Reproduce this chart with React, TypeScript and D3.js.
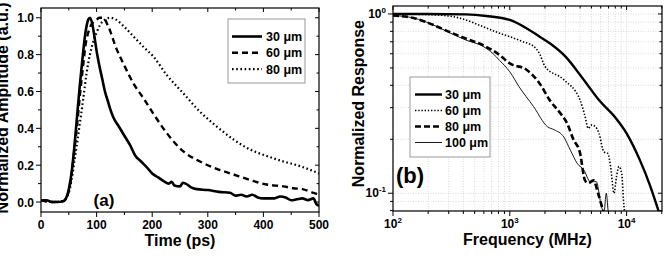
import * as d3 from "d3";

// panel (a): time response
const timeA = [0, 10, 20, 30, 40, 45, 50, 55, 60, 65, 70, 75, 80, 85, 88, 92, 96, 100, 105, 110, 115, 120, 125, 130, 140, 150, 160, 170, 180, 190, 200, 210, 220, 230, 235, 240, 250, 255, 260, 270, 280, 300, 320, 340, 350, 360, 370, 380, 390, 400, 420, 430, 440, 450, 460, 470, 480, 490, 495, 500];
const amp30 = [0.01, 0.01, 0.0, 0.0, 0.005, 0.02, 0.07, 0.16, 0.3, 0.47, 0.64, 0.79, 0.92, 0.99, 1.0, 0.97, 0.9, 0.82, 0.74, 0.67, 0.6, 0.55, 0.5, 0.46, 0.41, 0.36, 0.31, 0.25, 0.22, 0.19, 0.155, 0.135, 0.115, 0.1, 0.11, 0.09, 0.085, 0.105, 0.1, 0.08, 0.07, 0.065, 0.055, 0.05, 0.035, 0.04, 0.03, 0.04, 0.025, 0.02, 0.02, 0.03, 0.025, 0.01, 0.015, 0.02, 0.01, 0.02, -0.01, -0.02];

const timeB = [0, 20, 40, 45, 50, 55, 60, 65, 70, 75, 80, 85, 90, 95, 100, 105, 112, 120, 136, 150, 166, 185, 202, 226, 256, 286, 316, 346, 376, 406, 436, 454, 470, 490, 500];
const amp60 = [0.01, 0.0, 0.005, 0.02, 0.06, 0.15, 0.28, 0.42, 0.58, 0.72, 0.85, 0.92, 0.96, 0.98, 0.99, 1.0, 1.0, 0.96, 0.83, 0.74, 0.645, 0.56, 0.48, 0.375, 0.275, 0.22, 0.18, 0.15, 0.12, 0.095, 0.085, 0.075, 0.07, 0.05, 0.04];

const timeC = [0, 20, 40, 45, 50, 55, 60, 64, 70, 76, 82, 88, 94, 100, 106, 115, 124, 135, 150, 166, 185, 202, 226, 256, 286, 316, 346, 376, 406, 436, 466, 500];
const amp80 = [0.01, 0.0, 0.005, 0.02, 0.05, 0.12, 0.22, 0.3, 0.43, 0.56, 0.7, 0.8, 0.87, 0.92, 0.96, 0.99, 1.0, 0.99, 0.95, 0.9, 0.84, 0.79, 0.69, 0.59, 0.49, 0.41, 0.34, 0.285, 0.25, 0.22, 0.195, 0.155];

// panel (b): frequency response
const freq30 = [100, 200, 420, 630, 1000, 1400, 1800, 2200, 3000, 4200, 5800, 8100, 10000, 13000, 16000, 18500, 20000];
const resp30 = [1.0, 1.0, 0.995, 0.975, 0.926, 0.83, 0.747, 0.686, 0.578, 0.438, 0.331, 0.262, 0.216, 0.153, 0.109, 0.082, 0.07];

const freq60 = [100, 220, 370, 590, 820, 1000, 1300, 1600, 1800, 2000, 2900, 4000, 4400, 4700, 5000, 5400, 5800, 6400, 6900, 7300, 7800, 8200, 8600, 9100, 9400, 9700];
const resp60 = [1.0, 0.99, 0.95, 0.85, 0.78, 0.747, 0.7, 0.66, 0.6, 0.51, 0.43, 0.33, 0.27, 0.23, 0.24, 0.235, 0.216, 0.17, 0.167, 0.141, 0.1, 0.124, 0.141, 0.128, 0.092, 0.075];

const freq80 = [100, 150, 220, 300, 420, 590, 820, 1000, 1400, 1800, 2200, 2700, 3100, 3500, 4000, 4400, 4700, 5200, 5700, 6300, 6800];
const resp80 = [0.98, 0.95, 0.87, 0.797, 0.73, 0.67, 0.59, 0.53, 0.487, 0.41, 0.33, 0.28, 0.245, 0.2, 0.167, 0.118, 0.114, 0.118, 0.1, 0.08, 0.07];

const freq100 = [100, 150, 220, 300, 420, 590, 720, 820, 1000, 1200, 1600, 2100, 2400, 2900, 3300, 3800, 4300, 4900, 5500, 6100, 6400, 6700, 7000, 7300];
const resp100 = [0.98, 0.95, 0.87, 0.79, 0.716, 0.66, 0.6, 0.55, 0.476, 0.393, 0.304, 0.235, 0.226, 0.206, 0.174, 0.146, 0.135, 0.116, 0.116, 0.084, 0.078, 0.1, 0.076, 0.07];

const legendA = ["30 \u03bcm", "60 \u03bcm", "80 \u03bcm"];
const legendB = ["30 \u03bcm", "60 \u03bcm", "80 \u03bcm", "100 \u03bcm"];

const FONT = "'Liberation Sans', Arial, sans-serif";

type Style = { width: number; dash?: string };
const stylesA: Style[] = [{ width: 2.6 }, { width: 2.4, dash: "6,4" }, { width: 2.2, dash: "1.6,2.6" }];
const stylesB: Style[] = [{ width: 2.4 }, { width: 1.6, dash: "1.4,1.8" }, { width: 2.6, dash: "6,3" }, { width: 0.9 }];

function PanelA() {
  const x = d3.scaleLinear().domain([0, 500]).range([41, 319]);
  const y = d3.scaleLinear().domain([-0.054, 1.053]).range([212, 8]);
  const line = d3
    .line<[number, number]>()
    .x((d) => x(d[0]))
    .y((d) => y(d[1]))
    .curve(d3.curveMonotoneX);
  const series = [
    d3.zip(timeA, amp30) as [number, number][],
    d3.zip(timeB, amp60) as [number, number][],
    d3.zip(timeC, amp80) as [number, number][],
  ];
  const [x0, x1] = x.range();
  const [y0, y1] = y.range();
  const xMajor = d3.range(0, 501, 100);
  const xMinor = d3.range(50, 500, 100);
  const yMajor = d3.range(0, 1.01, 0.2);
  const yMinor = d3.range(0.1, 1.01, 0.2);
  return (
    <g>
      <defs>
        <clipPath id="clipA">
          <rect x={x0} y={y1} width={x1 - x0} height={y0 - y1} />
        </clipPath>
      </defs>
      <g clipPath="url(#clipA)">
        {series.map((s, i) => (
          <path
            key={i}
            d={line(s) ?? ""}
            fill="none"
            stroke="#000"
            strokeWidth={stylesA[i].width}
            strokeDasharray={stylesA[i].dash}
            strokeLinejoin="round"
          />
        ))}
      </g>
      <rect x={x0} y={y1} width={x1 - x0} height={y0 - y1} fill="none" stroke="#000" strokeWidth={1.2} />
      {xMajor.map((t) => (
        <g key={"xm" + t}>
          <line x1={x(t)} x2={x(t)} y1={y0} y2={y0 + 5} stroke="#000" />
          <line x1={x(t)} x2={x(t)} y1={y1} y2={y1 + 4} stroke="#000" />
          <text x={x(t)} y={y0 + 17} textAnchor="middle" fontSize={12} fontWeight="bold" fontFamily={FONT}>
            {t}
          </text>
        </g>
      ))}
      {xMinor.map((t) => (
        <g key={"xn" + t}>
          <line x1={x(t)} x2={x(t)} y1={y0} y2={y0 + 3} stroke="#000" />
          <line x1={x(t)} x2={x(t)} y1={y1} y2={y1 + 2.5} stroke="#000" />
        </g>
      ))}
      {yMajor.map((v) => (
        <g key={"ym" + v}>
          <line x1={x0 - 5} x2={x0} y1={y(v)} y2={y(v)} stroke="#000" />
          <line x1={x1} x2={x1 - 4} y1={y(v)} y2={y(v)} stroke="#000" />
          <text x={x0 - 7} y={y(v) + 4.5} textAnchor="end" fontSize={12} fontWeight="bold" fontFamily={FONT}>
            {v.toFixed(1)}
          </text>
        </g>
      ))}
      {yMinor.map((v) => (
        <g key={"yn" + v}>
          <line x1={x0 - 3} x2={x0} y1={y(v)} y2={y(v)} stroke="#000" />
          <line x1={x1} x2={x1 - 2.5} y1={y(v)} y2={y(v)} stroke="#000" />
        </g>
      ))}
      <text x={(x0 + x1) / 2} y={246} textAnchor="middle" fontSize={16} fontWeight="bold" fontFamily={FONT}>
        Time (ps)
      </text>
      <text
        transform={`translate(8,${(y(0) + y(1)) / 2 - 2}) rotate(-90)`}
        textAnchor="middle"
        fontSize={16}
        fontWeight="bold"
        fontFamily={FONT}
      >
        Normalized Amplitude (a.u.)
      </text>
      <text x={104} y={206} textAnchor="middle" fontSize={17} fontWeight="bold" fontFamily={FONT}>
        (a)
      </text>
      <rect x={228} y={19} width={77} height={64} fill="#fff" stroke="#999" strokeWidth={1} />
      {legendA.map((name, i) => (
        <g key={name}>
          <line
            x1={232}
            x2={262}
            y1={36.5 + i * 16.3}
            y2={36.5 + i * 16.3}
            stroke="#000"
            strokeWidth={stylesA[i].width}
            strokeDasharray={stylesA[i].dash}
          />
          <text x={266} y={41 + i * 16.3} fontSize={12.5} fontWeight="bold" fontFamily={FONT}>
            {name}
          </text>
        </g>
      ))}
    </g>
  );
}

function PanelB() {
  const x = d3.scaleLog().domain([100, 20100]).range([393, 662]);
  const y = d3.scaleLog().domain([0.0796, 1.108]).range([211, 6]);
  const line = d3
    .line<[number, number]>()
    .x((d) => x(d[0]))
    .y((d) => y(d[1]))
    .curve(d3.curveMonotoneX);
  const series = [
    d3.zip(freq30, resp30) as [number, number][],
    d3.zip(freq60, resp60) as [number, number][],
    d3.zip(freq80, resp80) as [number, number][],
    d3.zip(freq100, resp100) as [number, number][],
  ];
  const [x0, x1] = x.range();
  const [y0, y1] = y.range();
  const xTicks = [1, 2, 3, 4, 5, 6, 7, 8, 9].flatMap((m) => [m * 100, m * 1000, m * 10000]).filter((v) => v <= 20000);
  const xMajor = [100, 1000, 10000];
  const yTicks = [0.08, 0.09, 0.1, 0.2, 0.3, 0.4, 0.5, 0.6, 0.7, 0.8, 0.9, 1.0];
  return (
    <g>
      <defs>
        <clipPath id="clipB">
          <rect x={x0} y={y1} width={x1 - x0} height={y0 - y1} />
        </clipPath>
      </defs>
      {xTicks.map((t) => (
        <line key={"gx" + t} x1={x(t)} x2={x(t)} y1={y1} y2={y0} stroke="#c8c8c8" strokeWidth={0.7} strokeDasharray="1,1.5" />
      ))}
      {yTicks.map((v) => (
        <line key={"gy" + v} x1={x0} x2={x1} y1={y(v)} y2={y(v)} stroke="#c8c8c8" strokeWidth={0.7} strokeDasharray="1,1.5" />
      ))}
      <g clipPath="url(#clipB)">
        {series.map((s, i) => (
          <path
            key={i}
            d={line(s) ?? ""}
            fill="none"
            stroke="#000"
            strokeWidth={stylesB[i].width}
            strokeDasharray={stylesB[i].dash}
            strokeLinejoin="round"
          />
        ))}
      </g>
      <rect x={x0} y={y1} width={x1 - x0} height={y0 - y1} fill="none" stroke="#000" strokeWidth={1.2} />
      {xTicks.map((t) => {
        const major = xMajor.includes(t);
        return (
          <g key={"xt" + t}>
            <line x1={x(t)} x2={x(t)} y1={y0} y2={y0 + (major ? 5 : 3)} stroke="#000" />
            <line x1={x(t)} x2={x(t)} y1={y1} y2={y1 + (major ? 4 : 2.5)} stroke="#000" />
          </g>
        );
      })}
      {xMajor.map((t) => (
        <text key={"xl" + t} x={x(t)} y={y0 + 17} textAnchor="middle" fontSize={12} fontWeight="bold" fontFamily={FONT}>
          10
          <tspan fontSize={8} dy={-5}>
            {Math.round(Math.log10(t))}
          </tspan>
        </text>
      ))}
      {yTicks.map((v) => {
        const major = v === 0.1 || v === 1.0;
        return (
          <g key={"yt" + v}>
            <line x1={x0 - (major ? 5 : 3)} x2={x0} y1={y(v)} y2={y(v)} stroke="#000" />
            <line x1={x1} x2={x1 - (major ? 4 : 2.5)} y1={y(v)} y2={y(v)} stroke="#000" />
          </g>
        );
      })}
      {[1, 0.1].map((v) => (
        <text key={"yl" + v} x={x0 - 7} y={y(v) + 4} textAnchor="end" fontSize={12} fontWeight="bold" fontFamily={FONT}>
          10
          <tspan fontSize={8} dy={-5}>
            {v === 1 ? "0" : "-1"}
          </tspan>
        </text>
      ))}
      <text x={(x0 + x1) / 2} y={245} textAnchor="middle" fontSize={16} fontWeight="bold" fontFamily={FONT}>
        Frequency (MHz)
      </text>
      <text
        transform={`translate(364,${(y(1) + y(0.1)) / 2}) rotate(-90)`}
        textAnchor="middle"
        fontSize={16}
        fontWeight="bold"
        fontFamily={FONT}
      >
        Normalized Response
      </text>
      <text x={410} y={183} textAnchor="middle" fontSize={22} fontWeight="bold" fontFamily={FONT}>
        (b)
      </text>
      <rect x={410} y={77} width={80} height={80} fill="#fff" stroke="#999" strokeWidth={1} />
      {legendB.map((name, i) => (
        <g key={name}>
          <line
            x1={415}
            x2={442}
            y1={94.5 + i * 16}
            y2={94.5 + i * 16}
            stroke="#000"
            strokeWidth={stylesB[i].width}
            strokeDasharray={stylesB[i].dash}
          />
          <text x={445} y={99 + i * 16} fontSize={12.5} fontWeight="bold" fontFamily={FONT}>
            {name}
          </text>
        </g>
      ))}
    </g>
  );
}

export default function App() {
  return (
    <svg
      width={666}
      height={259}
      viewBox="0 0 666 259"
      style={{ position: "absolute", left: 0, top: 0, background: "#fff" }}
    >
      <rect width={666} height={259} fill="#fff" />
      <PanelA />
      <PanelB />
    </svg>
  );
}
